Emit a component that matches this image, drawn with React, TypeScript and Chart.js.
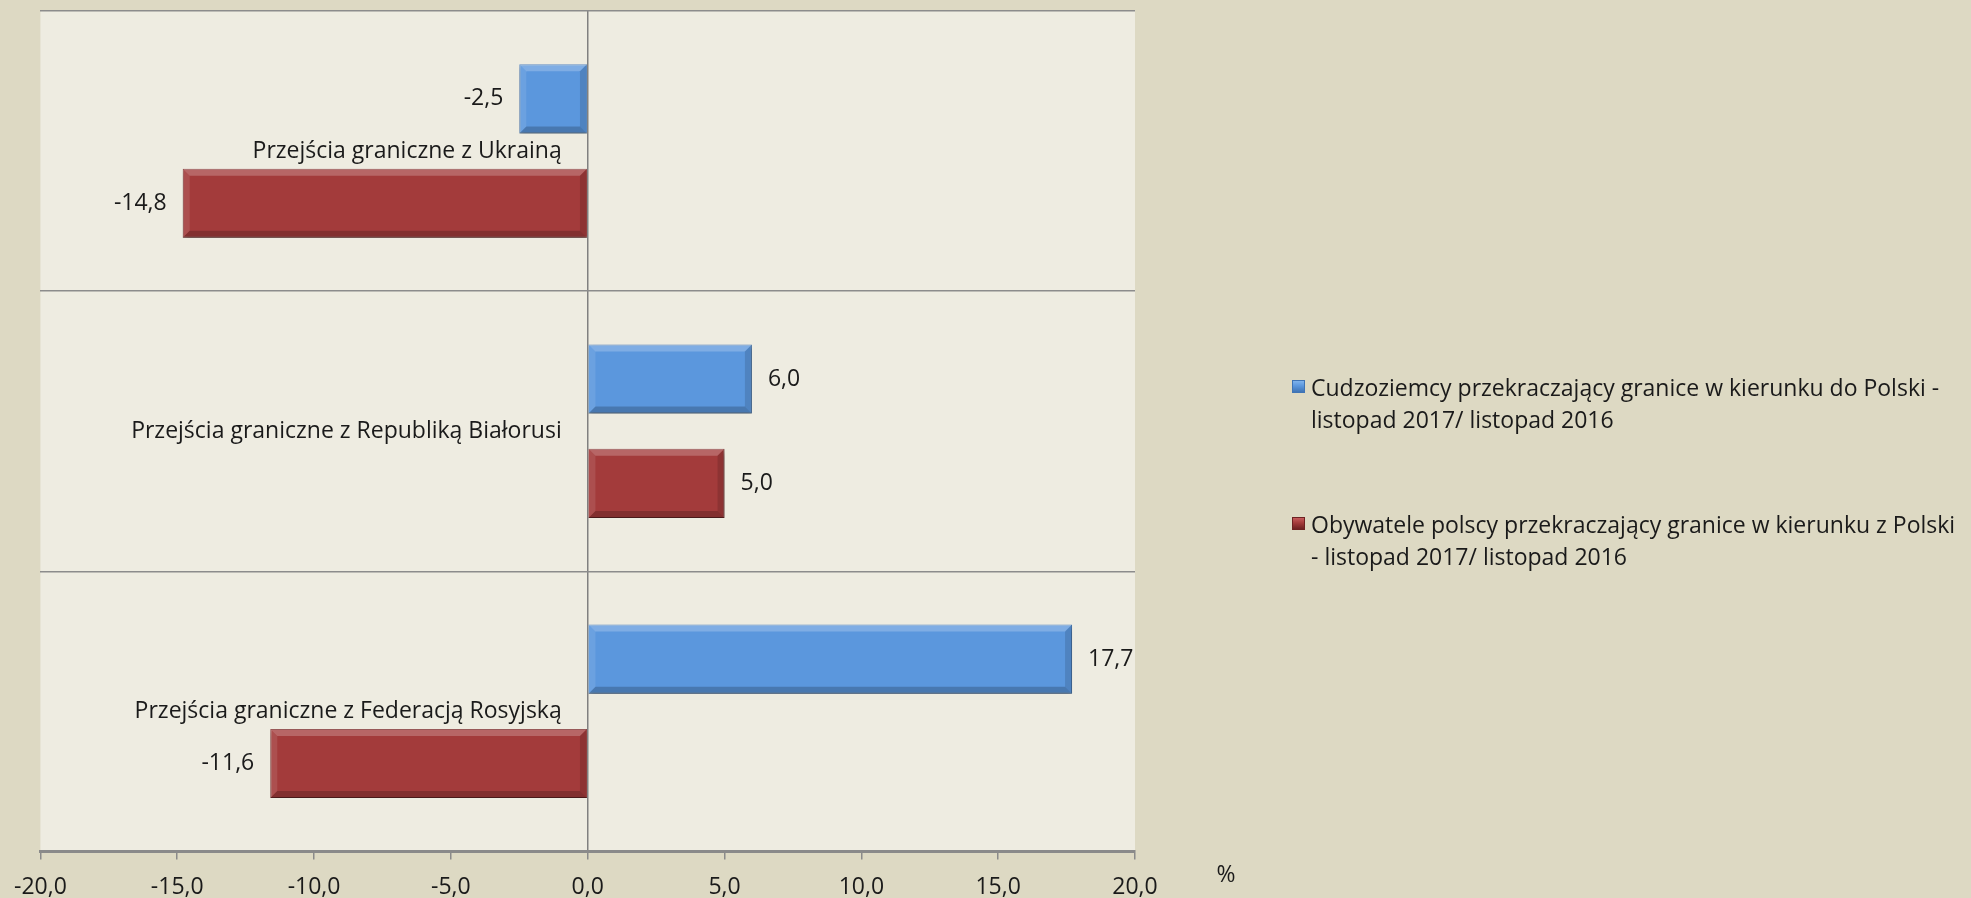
import React, { useEffect, useRef } from 'react';
import { Chart, registerables } from 'chart.js';

Chart.register(...registerables);

const categories = [
  'Przejścia graniczne z Ukrainą',
  'Przejścia graniczne z Republiką Białorusi',
  'Przejścia graniczne z Federacją Rosyjską',
];
const foreignersValues = [-2.5, 6.0, 17.7];
const polishValues = [-14.8, 5.0, -11.6];
const seriesNames = [
  'Cudzoziemcy przekraczający granice w kierunku do Polski - listopad 2017/ listopad 2016',
  'Obywatele polscy przekraczający granice w kierunku z Polski - listopad 2017/ listopad 2016',
];
const legendLines = [
  ['Cudzoziemcy przekraczający granice w kierunku do Polski -', 'listopad 2017/ listopad 2016'],
  ['Obywatele polscy przekraczający granice w kierunku z Polski', '- listopad 2017/ listopad 2016'],
];
const xMin = -20;
const xMax = 20;
const xStep = 5;
const axisUnit = '%';

const BLUE = '#5b97dd';
const BLUE_BORDER = '#4a7fbf';
const RED = '#a33b3b';
const RED_BORDER = '#7f2c2c';
const FONT = "'Open Sans', sans-serif";
const FONT_SIZE = 23;

const fmt = (v: number) => v.toFixed(1).replace('.', ',');

const plotBg = {
  id: 'plotBg',
  beforeDraw(chart: any) {
    const { ctx, chartArea } = chart;
    ctx.save();
    ctx.fillStyle = '#eeece1';
    ctx.fillRect(chartArea.left, chartArea.top, chartArea.right - chartArea.left, chartArea.bottom - chartArea.top);
    ctx.restore();
  },
};

const barEffects = {
  id: 'barEffects',
  beforeDatasetsDraw(chart: any) {
    const ctx = chart.ctx;
    ctx.save();
    ctx.shadowColor = 'rgba(0,0,0,0.35)';
    ctx.shadowBlur = 5;
    ctx.shadowOffsetX = 1;
    ctx.shadowOffsetY = 3;
  },
  afterDatasetsDraw(chart: any) {
    const ctx = chart.ctx;
    ctx.restore();
    ctx.save();
    chart.data.datasets.forEach((ds: any, di: number) => {
      const meta = chart.getDatasetMeta(di);
      meta.data.forEach((el: any) => {
        const p = el.getProps(['x', 'y', 'base', 'height'], true);
        const l = Math.min(p.x, p.base);
        const r = Math.max(p.x, p.base);
        const t = p.y - p.height / 2;
        const b = p.y + p.height / 2;
        const bv = Math.min(7, (r - l) / 2);
        const poly = (pts: number[][], color: string) => {
          ctx.beginPath();
          ctx.moveTo(pts[0][0], pts[0][1]);
          for (let i = 1; i < pts.length; i++) ctx.lineTo(pts[i][0], pts[i][1]);
          ctx.closePath();
          ctx.fillStyle = color;
          ctx.fill();
        };
        poly([[l, t], [r, t], [r - bv, t + bv], [l + bv, t + bv]], 'rgba(255,255,255,0.22)');
        poly([[l, b], [r, b], [r - bv, b - bv], [l + bv, b - bv]], 'rgba(0,0,0,0.2)');
        poly([[l, t], [l + bv, t + bv], [l + bv, b - bv], [l, b]], 'rgba(255,255,255,0.1)');
        poly([[r, t], [r - bv, t + bv], [r - bv, b - bv], [r, b]], 'rgba(0,0,0,0.13)');
      });
    });
    ctx.restore();
  },
};

const textPlugin = {
  id: 'texts',
  afterDraw(chart: any) {
    const { ctx, scales } = chart;
    const xs = scales.x;
    const ys = scales.y;
    ctx.save();
    ctx.font = `${FONT_SIZE}px ${FONT}`;
    ctx.fillStyle = '#1a1a1a';
    ctx.textBaseline = 'middle';
    chart.data.datasets.forEach((ds: any, di: number) => {
      const meta = chart.getDatasetMeta(di);
      meta.data.forEach((el: any, i: number) => {
        const v = ds.data[i];
        const p = el.getProps(['x', 'y'], true);
        if (v < 0) {
          ctx.textAlign = 'right';
          ctx.fillText(fmt(v), p.x - 16, p.y);
        } else {
          ctx.textAlign = 'left';
          ctx.fillText(fmt(v), p.x + 16, p.y);
        }
      });
    });
    const zx = xs.getPixelForValue(0);
    ctx.textAlign = 'right';
    categories.forEach((c, i) => {
      ctx.fillText(c, zx - 26, ys.getPixelForValue(i));
    });
    ctx.textAlign = 'center';
    ctx.fillText(axisUnit, xs.right + 91, xs.top + 24);
    ctx.restore();
  },
};

export default function App() {
  const ref = useRef<HTMLCanvasElement | null>(null);

  useEffect(() => {
    if (!ref.current) return;
    Chart.defaults.font.family = FONT;
    Chart.defaults.font.size = FONT_SIZE;
    Chart.defaults.color = '#1a1a1a';
    const chart = new Chart(ref.current, {
      type: 'bar',
      data: {
        labels: categories,
        datasets: [
          {
            label: seriesNames[0],
            data: foreignersValues,
            backgroundColor: BLUE,
            borderColor: BLUE_BORDER,
            borderWidth: 1,
            categoryPercentage: 0.745,
            barPercentage: 0.663,
          },
          {
            label: seriesNames[1],
            data: polishValues,
            backgroundColor: RED,
            borderColor: RED_BORDER,
            borderWidth: 1,
            categoryPercentage: 0.745,
            barPercentage: 0.663,
          },
        ],
      },
      options: {
        indexAxis: 'y',
        animation: false,
        responsive: true,
        maintainAspectRatio: false,
        layout: { padding: { left: 40, right: 836, top: 11, bottom: -17 } },
        plugins: {
          legend: { display: false },
          tooltip: { enabled: false },
        },
        scales: {
          x: {
            type: 'linear',
            min: xMin,
            max: xMax,
            ticks: {
              stepSize: xStep,
              padding: 14,
              color: '#1a1a1a',
              callback: (v: any) => fmt(Number(v)),
            },
            grid: {
              color: (c: any) => (c.tick && c.tick.value === 0 ? '#808080' : 'rgba(0,0,0,0)'),
              lineWidth: 1.5,
              tickColor: '#8a8a8a',
              tickLength: 8,
              tickWidth: 1.5,
            },
            border: { display: true, color: '#8a8a8a', width: 3 },
          },
          y: {
            ticks: { display: false },
            grid: { color: '#8c8c8c', lineWidth: 1.5, drawTicks: false, offset: true },
            border: { display: false },
          },
        },
      },
      plugins: [plotBg, barEffects, textPlugin],
    });
    return () => chart.destroy();
  }, []);

  const colors = [
    ['#7fb3ec', BLUE, '#3f74b5'],
    ['#c65c5c', RED, '#6e2222'],
  ];

  return (
    <div
      style={{
        position: 'fixed',
        left: 0,
        top: 0,
        width: 1971,
        height: 898,
        background: '#ddd9c3',
        fontFamily: FONT,
        overflow: 'hidden',
      }}
    >
      <div style={{ position: 'absolute', left: 0, top: 0, width: 1971, height: 898 }}>
        <canvas ref={ref} />
      </div>
      {legendLines.map((lines, i) => (
        <div
          key={i}
          style={{
            position: 'absolute',
            left: 1292,
            top: i === 0 ? 371 : 508,
            fontSize: FONT_SIZE,
            lineHeight: '32px',
            color: '#1a1a1a',
            whiteSpace: 'nowrap',
          }}
        >
          <span
            style={{
              position: 'absolute',
              left: 0,
              top: 9,
              width: 13,
              height: 13,
              background: `linear-gradient(${colors[i][0]}, ${colors[i][1]} 45%, ${colors[i][2]})`,
              border: `1px solid ${colors[i][2]}`,
              boxSizing: 'border-box',
            }}
          />
          <div style={{ paddingLeft: 19 }}>
            {lines.map((ln, j) => (
              <div key={j}>{ln}</div>
            ))}
          </div>
        </div>
      ))}
    </div>
  );
}
